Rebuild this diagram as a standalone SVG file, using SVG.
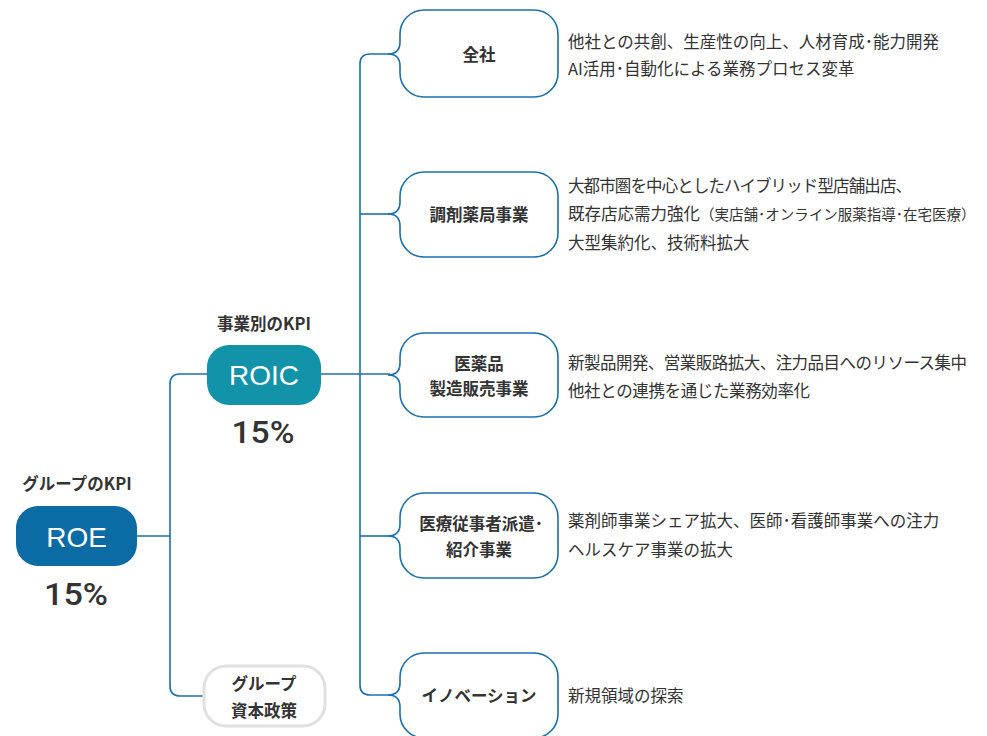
<svg xmlns="http://www.w3.org/2000/svg" width="987" height="736" viewBox="0 0 987 736">
<style>
.t{font-family:"Noto Sans CJK JP","Noto Sans",sans-serif;fill:#333;}
.lbl{font-size:16.5px;font-weight:700;}
.bt{font-size:16.5px;font-weight:700;text-anchor:middle;dominant-baseline:central;}
.dt{font-size:16.5px;dominant-baseline:central;}
.big{font-family:"Liberation Sans",Arial,sans-serif;font-size:28px;fill:#fff;text-anchor:middle;dominant-baseline:central;}
.pct{font-family:Roboto,"Liberation Sans",Arial,sans-serif;font-size:32px;font-weight:500;fill:#333;text-anchor:middle;}
.ln{fill:none;stroke:#1a70ad;stroke-width:1.6;}
.bx{fill:#fff;stroke:#1a70ad;stroke-width:1.6;}
</style>
<rect width="987" height="736" fill="#fff"/>
<g id="connectors">
<path class="ln" d="M137,536 H170"/>
<path class="ln" d="M207,374 H180 Q170,374 170,384 V686 Q170,696 180,696 H203"/>
<path class="ln" d="M321,374 H390"/>
<path class="ln" d="M390,54 H370 Q360,54 360,64 V685 Q360,695 370,695 H390"/>
<path class="ln" d="M360,214 H390"/>
<path class="ln" d="M360,536 H390"/>
</g>
<g id="roe">
<text class="t lbl" x="77" y="490" text-anchor="middle">グループのKPI</text>
<rect x="16" y="506" width="121" height="60" rx="22" fill="#0b6ba5"/>
<text class="big" x="76.5" y="537">ROE</text>
<text class="pct" x="76" y="605" textLength="64" lengthAdjust="spacingAndGlyphs">15%</text>
</g>
<g id="roic">
<text class="t lbl" x="264" y="330" text-anchor="middle">事業別のKPI</text>
<rect x="207" y="345" width="114" height="60" rx="22" fill="#1393a9"/>
<text class="big" x="264" y="375">ROIC</text>
<text class="pct" x="263" y="443" textLength="63" lengthAdjust="spacingAndGlyphs">15%</text>
</g>
<g id="capital">
<rect x="204" y="666" width="121" height="60" rx="22" fill="#fff" stroke="#e0e0e0" stroke-width="3"/>
<text class="t bt" x="264" y="683">グループ</text>
<text class="t bt" x="264" y="710">資本政策</text>
</g>
<g id="zensha">
<path class="bx" d="M424,10 H534 A24,24 0 0 1 558,34 V73 A24,24 0 0 1 534,97 H424 A24,24 0 0 1 400,73 V66 Q400,54 388,54 Q400,54 400,42 V34 A24,24 0 0 1 424,10 Z"/>
<text class="t bt" x="479" y="54">全社</text>
<text class="t dt" x="568" y="41">他社との共創、生産性の向上、人材育成･能力開発</text>
<text class="t dt" x="568" y="68">AI活用･自動化による業務プロセス変革</text>
</g>
<g id="pharmacy">
<path class="bx" d="M424,172 H534 A24,24 0 0 1 558,196 V233 A24,24 0 0 1 534,257 H424 A24,24 0 0 1 400,233 V226 Q400,214 388,214 Q400,214 400,202 V196 A24,24 0 0 1 424,172 Z"/>
<text class="t bt" x="479" y="214">調剤薬局事業</text>
<text class="t dt" x="568" y="185" textLength="344" lengthAdjust="spacing">大都市圏を中心としたハイブリッド型店舗出店、</text>
<text class="t dt" x="568" y="213">既存店応需力強化<tspan font-size="14.5px">（実店舗･オンライン服薬指導･在宅医療）</tspan></text>
<text class="t dt" x="568" y="242">大型集約化、技術料拡大</text>
</g>
<g id="manufacturing">
<path class="bx" d="M424,333 H534 A24,24 0 0 1 558,357 V393 A24,24 0 0 1 534,417 H424 A24,24 0 0 1 400,393 V387 Q400,375 388,375 Q400,375 400,363 V357 A24,24 0 0 1 424,333 Z"/>
<text class="t bt" x="479" y="363">医薬品</text>
<text class="t bt" x="479" y="388">製造販売事業</text>
<text class="t dt" x="568" y="362" textLength="399" lengthAdjust="spacing">新製品開発、営業販路拡大、注力品目へのリソース集中</text>
<text class="t dt" x="568" y="390" textLength="242" lengthAdjust="spacing">他社との連携を通じた業務効率化</text>
</g>
<g id="staffing">
<path class="bx" d="M424,493 H534 A24,24 0 0 1 558,517 V554 A24,24 0 0 1 534,578 H424 A24,24 0 0 1 400,554 V548 Q400,536 388,536 Q400,536 400,524 V517 A24,24 0 0 1 424,493 Z"/>
<text class="t bt" x="481" y="523">医療従事者派遣･</text>
<text class="t bt" x="479" y="549">紹介事業</text>
<text class="t dt" x="568" y="520">薬剤師事業シェア拡大、医師･看護師事業への注力</text>
<text class="t dt" x="568" y="549">ヘルスケア事業の拡大</text>
</g>
<g id="innovation">
<path class="bx" d="M424,653 H534 A24,24 0 0 1 558,677 V714 A24,24 0 0 1 534,738 H424 A24,24 0 0 1 400,714 V707 Q400,695 388,695 Q400,695 400,683 V677 A24,24 0 0 1 424,653 Z"/>
<text class="t bt" x="479" y="695">イノベーション</text>
<text class="t dt" x="568" y="695">新規領域の探索</text>
</g>
</svg>
